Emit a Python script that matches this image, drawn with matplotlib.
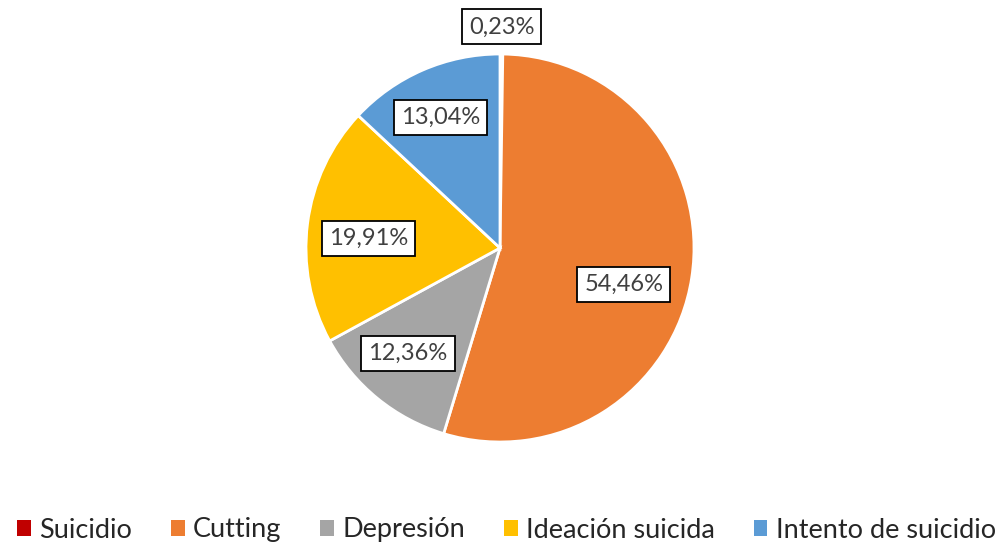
import matplotlib.pyplot as plt
from matplotlib.patches import Patch
import numpy as np

categories = ['Suicidio', 'Cutting', 'Depresión', 'Ideación suicida', 'Intento de suicidio']
shares = [0.23, 54.46, 12.36, 19.91, 13.04]
colors = ['#C00000', '#ED7D31', '#A5A5A5', '#FFC000', '#5B9BD5']

plt.rcParams['font.family'] = ['Lato', 'DejaVu Sans']

W, H = 1005, 547
fig = plt.figure(figsize=(W / 100, H / 100), dpi=100)
ax = fig.add_axes([0, 0, 1, 1])

center = (500, H - 248)
radius = 194

wedges, _ = ax.pie(shares, colors=colors, startangle=90, counterclock=False,
                   center=center, radius=radius, frame=True,
                   wedgeprops=dict(edgecolor='white', linewidth=2))
ax.set_xlim(0, W)
ax.set_ylim(0, H)
ax.set_aspect('equal')
ax.axis('off')

# label placement: distance from centre (fraction of radius) and angle shift
label_dist = [1.14, 0.665, 0.72, 0.68, 0.74]
label_shift = [0, -7.5, -2, 3, 1]
box = dict(boxstyle='square,pad=0.3', fc='white', ec='black', lw=1.3)
for w, val, d, s in zip(wedges, shares, label_dist, label_shift):
    ang = np.deg2rad((w.theta1 + w.theta2) / 2 + s)
    x = center[0] + d * radius * np.cos(ang)
    y = center[1] + d * radius * np.sin(ang)
    ax.text(x, y, f'{val:.2f}%'.replace('.', ','), ha='center', va='center',
            fontsize=17, color='#404040', bbox=box)

handles = [Patch(facecolor=c, edgecolor='none') for c in colors]
fig.legend(handles, categories, loc='center', bbox_to_anchor=(0.504, 17 / H),
           ncol=5, frameon=False, fontsize=19.5, handlelength=0.5,
           handleheight=0.5, handletextpad=0.3, columnspacing=1.45,
           labelcolor='#262626')

fig.savefig('out.png', dpi=100)
